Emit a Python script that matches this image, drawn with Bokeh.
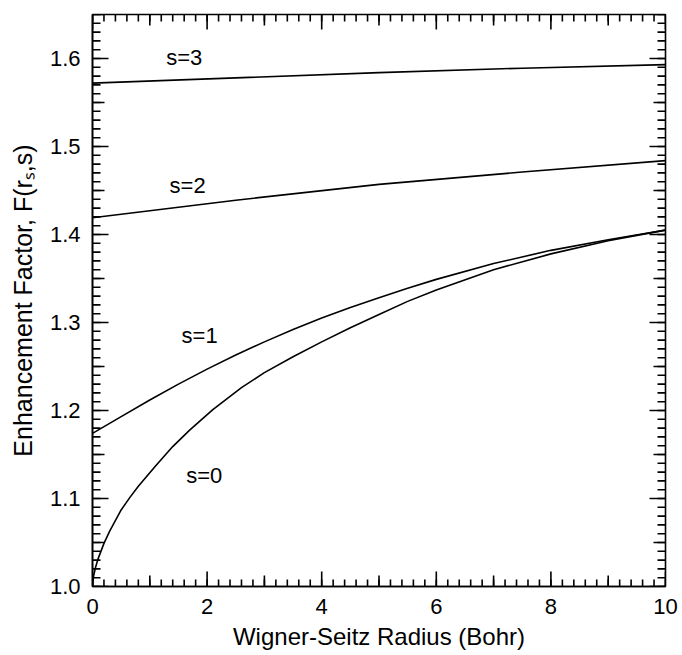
from bokeh.plotting import figure
from bokeh.models import LinearAxis, FixedTicker, Range1d, ColumnDataSource
from bokeh.core.properties import value
from bokeh.embed import file_html
from bokeh.resources import INLINE

# ---- data ----
rs_s0 = [0.0, 0.02, 0.05, 0.1, 0.2, 0.3, 0.5, 0.65, 0.8, 1.1, 1.4, 1.7, 2.1, 2.6, 3.0, 3.5, 4.0, 4.5,
         5.0, 5.5, 6.0, 7.0, 8.0, 9.0, 10.0]
F_s0 = [1.000, 1.012, 1.021, 1.032, 1.049, 1.063, 1.087, 1.101, 1.114, 1.137, 1.159, 1.178, 1.201,
        1.226, 1.243, 1.261, 1.278, 1.294, 1.309, 1.324, 1.337, 1.360, 1.378, 1.393, 1.405]

rs_s1 = [0.0, 0.5, 1.0, 1.5, 2.0, 2.5, 3.0, 3.5, 4.0, 4.5, 5.0, 5.5, 6.0, 7.0, 8.0, 9.0, 10.0]
F_s1 = [1.174, 1.193, 1.212, 1.230, 1.247, 1.263, 1.278, 1.292, 1.305, 1.317, 1.328, 1.339, 1.349,
        1.367, 1.382, 1.394, 1.405]

rs_s2 = [0.0, 2.5, 5.0, 7.5, 10.0]
F_s2 = [1.419, 1.439, 1.457, 1.471, 1.484]

rs_s3 = [0.0, 2.5, 5.0, 7.5, 10.0]
F_s3 = [1.572, 1.578, 1.584, 1.589, 1.593]

curve_labels = ["s=0", "s=1", "s=2", "s=3"]
label_rs = [1.95, 1.87, 1.66, 1.60]
label_F = [1.126, 1.285, 1.456, 1.601]

x_major_ticks = [0, 2, 4, 6, 8, 10]
x_tick_labels = ["0", "2", "4", "6", "8", "10"]
x_mid_ticks = [1, 3, 5, 7, 9]
x_minor_ticks = [round(i * 0.2, 1) for i in range(51)]

y_major_ticks = [1.0, 1.1, 1.2, 1.3, 1.4, 1.5, 1.6]
y_tick_labels = ["1.0", "1.1", "1.2", "1.3", "1.4", "1.5", "1.6"]
y_mid_ticks = [1.05, 1.15, 1.25, 1.35, 1.45, 1.55, 1.65]
y_minor_ticks = [round(1.0 + i * 0.01, 2) for i in range(66)]

X0, X1 = 0.0, 10.0
Y0, Y1 = 1.0, 1.65

FONT = "Liberation Sans"
FRAME_W, FRAME_H = 573, 572
B_LEFT, B_RIGHT, B_TOP, B_BOTTOM = 92, 17, 14, 69

p = figure(width=B_LEFT + FRAME_W + B_RIGHT, height=B_TOP + FRAME_H + B_BOTTOM,
           x_range=Range1d(X0, X1), y_range=Range1d(Y0, Y1),
           output_backend="svg", toolbar_location=None,
           x_axis_type=None, y_axis_type=None,
           min_border_left=B_LEFT, min_border_right=B_RIGHT,
           min_border_top=B_TOP, min_border_bottom=B_BOTTOM)
p.background_fill_color = "white"
p.border_fill_color = "white"
p.outline_line_color = "black"
p.outline_line_width = 1.6
p.xgrid.visible = False
p.ygrid.visible = False


def label_axis(ticks, labels, title, title_size, title_standoff):
    ax = LinearAxis(ticker=FixedTicker(ticks=ticks, minor_ticks=[]))
    ax.major_tick_in = 0
    ax.major_tick_out = 0
    ax.minor_tick_in = 0
    ax.minor_tick_out = 0
    ax.axis_line_color = "black"
    ax.axis_line_width = 1.6
    ax.major_label_overrides = {t: l for t, l in zip(ticks, labels)}
    ax.major_label_text_font = FONT
    ax.major_label_text_font_size = "22px"
    ax.major_label_text_color = "black"
    ax.major_label_standoff = 12
    ax.axis_label = title
    ax.axis_label_text_font = FONT
    ax.axis_label_text_font_size = title_size
    ax.axis_label_text_font_style = "normal"
    ax.axis_label_text_color = "black"
    ax.axis_label_standoff = title_standoff
    return ax


p.add_layout(label_axis(x_major_ticks, x_tick_labels, "Wigner-Seitz Radius (Bohr)", "24px", 6), "below")
p.add_layout(label_axis(y_major_ticks, y_tick_labels, "Enhancement Factor, F(r\u209b,s)", "25px", 10), "left")

# inward tick marks on all four sides, drawn as segments; a tick of L pixels
# is converted to data units with the frame's scale
DX = (X1 - X0) / FRAME_W   # data units per pixel, x
DY = (Y1 - Y0) / FRAME_H   # data units per pixel, y

xs0, xs1, ys0, ys1 = [], [], [], []
for ticks, L in [(x_major_ticks, 15), (x_mid_ticks, 11), (x_minor_ticks, 7)]:
    for t in ticks:
        xs0 += [t, t]
        xs1 += [t, t]
        ys0 += [Y0, Y1]
        ys1 += [Y0 + L * DY, Y1 - L * DY]
for ticks, L in [(y_major_ticks, 16), (y_mid_ticks, 12), (y_minor_ticks, 8)]:
    for t in ticks:
        xs0 += [X0, X1]
        xs1 += [X0 + L * DX, X1 - L * DX]
        ys0 += [t, t]
        ys1 += [t, t]
tick_src = ColumnDataSource(dict(x0=xs0, y0=ys0, x1=xs1, y1=ys1))
p.segment(x0="x0", y0="y0", x1="x1", y1="y1", source=tick_src,
          line_color="black", line_width=1.6)

for xs, ys in [(rs_s0, F_s0), (rs_s1, F_s1), (rs_s2, F_s2), (rs_s3, F_s3)]:
    p.line(xs, ys, line_color="black", line_width=1.6, line_join="round")

src = ColumnDataSource(dict(x=label_rs, y=label_F, t=curve_labels))
p.text(x="x", y="y", text="t", source=src, text_font=value(FONT),
       text_font_size="22px", text_align="center", text_baseline="middle",
       text_color="black")

open("out.html", "w").write(file_html(p, INLINE))
